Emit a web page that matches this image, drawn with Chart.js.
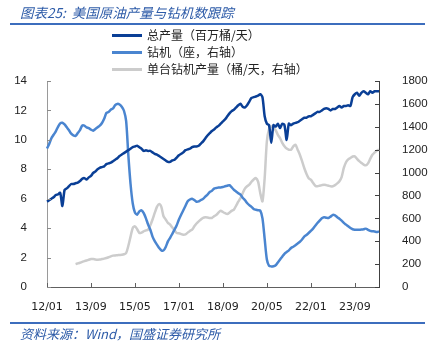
<!DOCTYPE html>
<html lang="zh">
<head>
    <meta charset="UTF-8">
    <title>美国原油产量与钻机数跟踪</title>
    <script src="https://cdn.jsdelivr.net/npm/chart.js"></script>
    <style>
        body { margin: 0; background: #fff; }
        .wrap { position: relative; width: 432px; height: 354px; overflow: hidden; font-family: "Noto Sans CJK SC", sans-serif; }
        #chart { position: absolute; left: 0; top: 0; }
        .title { position: absolute; left: 20px; top: 2px; font-size: 13.5px; font-style: italic; color: #2d5ba8; white-space: nowrap; }
        .rule { position: absolute; left: 10px; width: 415px; height: 2px; background: #3c6dbd; }
        .legend { position: absolute; left: 112px; top: 26px; font-size: 12px; color: #222; }
        .legend div { height: 17px; line-height: 17px; white-space: nowrap; }
        .legend span { display: inline-block; width: 30px; height: 3px; vertical-align: middle; margin-right: 5px; position: relative; top: -1px; }
        .source { position: absolute; left: 20px; top: 324px; font-size: 13px; font-style: italic; color: #2d5ba8; white-space: nowrap; }
    </style>
</head>
<body>
<div class="wrap">
    <canvas id="chart" width="432" height="354"></canvas>
    <div class="title">图表25:&nbsp; 美国原油产量与钻机数跟踪</div>
    <div class="rule" style="top:23px"></div>
    <div class="legend">
        <div><span style="background:#0a3f96"></span>总产量（百万桶/天）</div>
        <div><span style="background:#4a85d0"></span>钻机（座，右轴）</div>
        <div><span style="background:#cccccc"></span>单台钻机产量（桶/天，右轴）</div>
    </div>
    <div class="rule" style="top:322px"></div>
    <div class="source">资料来源：Wind，国盛证券研究所</div>
</div>

<script>
    // monthly, 2012/01 .. 2024/08
    var startYear = 2012, monthCount = 152;
    var months = [];
    for (var i = 0; i < monthCount; i++) {
        var yy = (startYear + Math.floor(i / 12)) % 100;
        var mm = i % 12 + 1;
        months.push((yy < 10 ? '0' : '') + yy + '/' + (mm < 10 ? '0' : '') + mm);
    }
    var labelEvery = 20;

    // 总产量（百万桶/天）
    var totalOutput = [
        5.8, 5.9, 6.0, 6.1, 6.25, 6.3, 6.4, 5.5, 6.6, 6.7, 6.85, 7.0,
        7.0, 7.05, 7.1, 7.2, 7.35, 7.4, 7.3, 7.45, 7.55, 7.75, 7.85, 8.0,
        8.1, 8.15, 8.2, 8.35, 8.4, 8.45, 8.55, 8.65, 8.75, 8.9, 9.0, 9.1,
        9.2, 9.3, 9.4, 9.5, 9.55, 9.6, 9.5, 9.4, 9.25, 9.3, 9.25, 9.25,
        9.15, 9.05, 9.0, 8.9, 8.8, 8.7, 8.6, 8.5, 8.5, 8.6, 8.65, 8.8,
        8.95, 9.05, 9.15, 9.3, 9.35, 9.4, 9.5, 9.55, 9.55, 9.6, 9.75, 9.9,
        10.1, 10.3, 10.45, 10.6, 10.7, 10.85, 10.95, 11.1, 11.25, 11.4, 11.6, 11.8,
        11.95, 12.05, 12.2, 12.35, 12.45, 12.25, 12.2, 12.35, 12.6, 12.85, 12.9, 12.95,
        13.0, 13.1, 12.9, 11.6, 11.1, 11.0, 9.8, 11.0, 10.9, 11.1, 10.8, 11.1,
        11.0, 10.0, 11.1, 11.0, 11.1, 11.15, 11.2, 11.3, 11.4, 11.5, 11.5, 11.6,
        11.6, 11.7, 11.8, 11.9, 11.9, 12.0, 12.1, 12.15, 12.1, 12.0, 12.1, 12.1,
        12.2, 12.3, 12.2, 12.3, 12.3, 12.35, 12.3, 12.9, 13.1, 13.2, 13.0, 13.2,
        13.3, 13.2, 13.1, 13.3, 13.2, 13.3, 13.3, 13.3
    ];

    // 钻机（座，右轴）
    var rigCount = [
        1210, 1250, 1300, 1330, 1360, 1400, 1430, 1435, 1420, 1395, 1370, 1340,
        1325, 1320, 1345, 1370, 1410, 1410, 1395, 1389, 1375, 1366, 1380, 1395,
        1410, 1433, 1470, 1520, 1530, 1549, 1560, 1590, 1600, 1595, 1575, 1540,
        1450, 1150, 900, 730, 650, 632, 660, 670, 645, 600, 545, 500,
        440, 400, 370, 341, 320, 320, 350, 399, 430, 465, 501, 540,
        590, 632, 670, 710, 749, 765, 772, 760, 745, 748, 760, 770,
        790, 807, 830, 840, 860, 865, 870, 870, 874, 880, 885, 889,
        870, 850, 835, 820, 807, 780, 760, 734, 715, 700, 682, 675,
        670, 667, 600, 420, 240, 185, 180, 181, 190, 215, 240, 265,
        290, 305, 320, 341, 352, 365, 380, 395, 415, 440, 455, 472,
        490, 510, 535, 559, 580, 600, 609, 605, 603, 615, 630, 625,
        610, 597, 580, 560, 545, 530, 515, 505, 501, 500, 500, 502,
        505, 510, 500, 490, 487, 485, 480, 486
    ];

    // 单台钻机产量（桶/天，右轴）
    var perRigOutput = [
        null, null, null, null, null, null, null, null, null, null, null, null,
        null, 200, 206, 212, 220, 226, 232, 238, 244, 245, 241, 239,
        240, 244, 248, 253, 260, 268, 274, 276, 278, 280, 282, 286,
        297, 360, 440, 516, 530, 505, 472, 475, 487, 495, 501, 540,
        590, 647, 700, 725, 700, 618, 590, 560, 545, 520, 495, 472,
        470, 462, 457, 460, 475, 490, 501, 530, 555, 574, 590, 605,
        609, 607, 603, 603, 618, 630, 650, 667, 655, 645, 638, 650,
        665, 676, 710, 745, 778, 820, 860, 880, 894, 920, 940, 952,
        920, 820, 749, 952, 1273, 1380, 1404, 1389, 1370, 1330, 1300, 1260,
        1230, 1210, 1200, 1200, 1229, 1243, 1200, 1156, 1100, 1040, 990, 950,
        938, 910, 885, 880, 885, 890, 894, 890, 885, 880, 880, 890,
        905, 924, 960, 1040, 1090, 1115, 1127, 1140, 1142, 1120, 1100, 1084,
        1070, 1063, 1080, 1120, 1156, 1175, 1190, 1200
    ];

    var leftTicks = { min: 0, max: 14, step: 2 };
    var rightTicks = { min: 0, max: 1800, step: 200 };

    // small tick marks that point into the plot, like the original
    var innerTicks = {
        id: 'innerTicks',
        afterDraw: function (chart) {
            var ctx = chart.ctx;
            var x = chart.scales.x, y = chart.scales.y, y1 = chart.scales.y1;
            ctx.save();
            ctx.lineWidth = 1;
            ctx.strokeStyle = '#8a8a8a';
            y.ticks.forEach(function (t) {
                var py = Math.round(y.getPixelForValue(t.value)) + 0.5;
                ctx.beginPath(); ctx.moveTo(y.right, py); ctx.lineTo(y.right + 4, py); ctx.stroke();
            });
            ctx.strokeStyle = '#404040';
            y1.ticks.forEach(function (t) {
                var py = Math.round(y1.getPixelForValue(t.value)) + 0.5;
                ctx.beginPath(); ctx.moveTo(y1.left, py); ctx.lineTo(y1.left - 4, py); ctx.stroke();
            });
            ctx.strokeStyle = '#606060';
            for (var i = 0; i < months.length; i += labelEvery) {
                var px = Math.round(x.getPixelForValue(i)) + 0.5;
                ctx.beginPath(); ctx.moveTo(px, x.top); ctx.lineTo(px, x.top - 4); ctx.stroke();
            }
            ctx.restore();
        }
    };

    var tickFontY = { family: '"Liberation Sans", sans-serif', size: 11.5 };
    var plainNumber = function (v) { return String(v); };

    new Chart(document.getElementById('chart').getContext('2d'), {
        type: 'line',
        data: {
            labels: months,
            datasets: [
                { label: '总产量（百万桶/天）', data: totalOutput, yAxisID: 'y', borderColor: '#0a3f96', borderWidth: 2.5 },
                { label: '钻机（座，右轴）', data: rigCount, yAxisID: 'y1', borderColor: '#4a85d0', borderWidth: 2.5 },
                { label: '单台钻机产量（桶/天，右轴）', data: perRigOutput, yAxisID: 'y1', borderColor: '#cccccc', borderWidth: 2.5 }
            ]
        },
        options: {
            responsive: false,
            animation: false,
            devicePixelRatio: 1,
            layout: { padding: { top: 81, left: 0, right: 0, bottom: 0 } },
            elements: { point: { radius: 0 }, line: { tension: 0.25, fill: false } },
            plugins: { legend: { display: false }, tooltip: { enabled: false } },
            scales: {
                x: {
                    type: 'category',
                    grid: { display: false },
                    border: { display: true, color: '#606060', width: 1 },
                    ticks: {
                        autoSkip: false, maxRotation: 0, padding: 6, color: '#222',
                        font: { family: '"DejaVu Sans", sans-serif', size: 11 },
                        callback: function (v, i) { return i % labelEvery === 0 ? months[i] : null; }
                    },
                    afterFit: function (s) { s.height = 67; }
                },
                y: {
                    position: 'left',
                    min: leftTicks.min, max: leftTicks.max,
                    grid: { display: false },
                    border: { display: true, color: '#9a9a9a', width: 1 },
                    ticks: { stepSize: leftTicks.step, padding: 12, color: '#222', font: tickFontY, callback: plainNumber },
                    afterFit: function (s) { s.width = 47; }
                },
                y1: {
                    position: 'right',
                    min: rightTicks.min, max: rightTicks.max,
                    grid: { display: false },
                    border: { display: true, color: '#404040', width: 1 },
                    ticks: { stepSize: rightTicks.step, padding: 15, color: '#222', font: tickFontY, callback: plainNumber },
                    afterFit: function (s) { s.width = 53; }
                }
            }
        },
        plugins: [innerTicks]
    });
</script>
</body>
</html>
